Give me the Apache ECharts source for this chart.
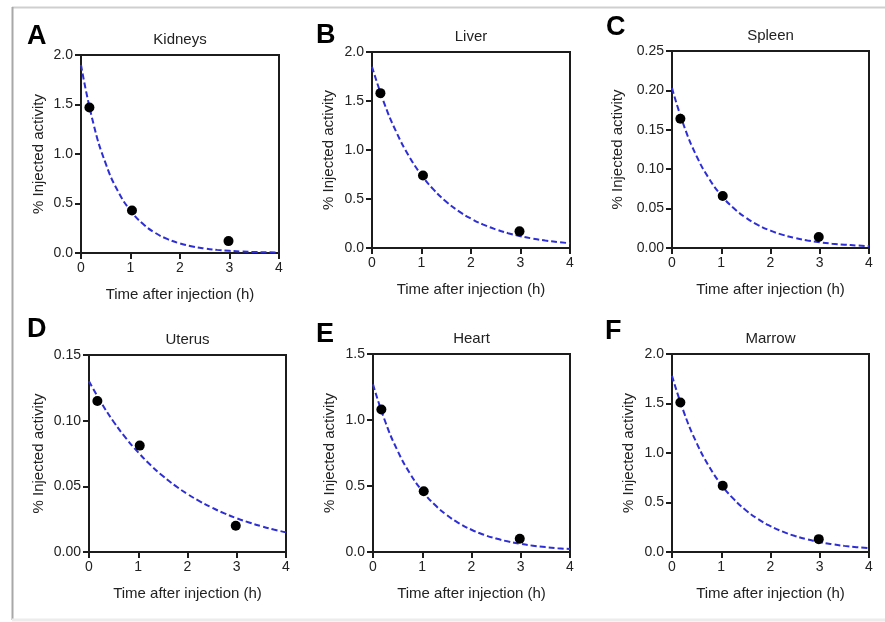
<!DOCTYPE html>
<html>
<head>
<meta charset="utf-8">
<script src="https://cdn.jsdelivr.net/npm/echarts@6/dist/echarts.min.js"></script>
<style>
  html, body { margin: 0; padding: 0; background: #fff; }
  #chart { width: 885px; height: 622px; }
</style>
</head>
<body>
<div id="chart"></div>
<script>
// Sampling times (h) of the measured points
const times = [0.17, 1.03, 2.98];
// Times (h) at which the fitted decay curves are tabulated
const fitTimes = [0, 0.25, 0.5, 0.75, 1, 1.25, 1.5, 1.75, 2, 2.25, 2.5, 2.75, 3, 3.25, 3.5, 3.75, 4];

// Measured % injected activity per organ
const kidneys = [1.47, 0.43, 0.12];
const liver = [1.58, 0.74, 0.17];
const spleen = [0.164, 0.066, 0.014];
const uterus = [0.115, 0.081, 0.020];
const heart = [1.08, 0.46, 0.10];
const marrow = [1.51, 0.67, 0.13];

// Fitted mono-exponential curves, tabulated at fitTimes
const kidneysFit = [1.900, 1.309, 0.902, 0.621, 0.428, 0.295, 0.203, 0.140, 0.0965, 0.0665, 0.0458, 0.0316, 0.0218, 0.0150, 0.0103, 0.0071, 0.0049];
const liverFit = [1.850, 1.4735, 1.1737, 0.9348, 0.7446, 0.5931, 0.4724, 0.3763, 0.2997, 0.2387, 0.1901, 0.1514, 0.1206, 0.0961, 0.0765, 0.0610, 0.0486];
const spleenFit = [0.2030, 0.1538, 0.1165, 0.0883, 0.0669, 0.0507, 0.0384, 0.0291, 0.0220, 0.0167, 0.0127, 0.0096, 0.0073, 0.0055, 0.0042, 0.0032, 0.0024];
const uterusFit = [0.1300, 0.1136, 0.0992, 0.0867, 0.0758, 0.0662, 0.0578, 0.0505, 0.0441, 0.0386, 0.0337, 0.0294, 0.0257, 0.0225, 0.0196, 0.0171, 0.0150];
const heartFit = [1.270, 0.9867, 0.7665, 0.5955, 0.4627, 0.3594, 0.2793, 0.2170, 0.1686, 0.1309, 0.1017, 0.0790, 0.0614, 0.0477, 0.0371, 0.0288, 0.0224];
const marrowFit = [1.780, 1.4002, 1.1014, 0.8664, 0.6815, 0.5361, 0.4217, 0.3317, 0.2609, 0.2052, 0.1614, 0.1270, 0.0999, 0.0786, 0.0618, 0.0486, 0.0383];

// Panel letters, organ names and y-axis scales
const letters = ['A', 'B', 'C', 'D', 'E', 'F'];
const organs = ['Kidneys', 'Liver', 'Spleen', 'Uterus', 'Heart', 'Marrow'];
const yMax = [2.0, 2.0, 0.25, 0.15, 1.5, 2.0];
const yStep = [0.5, 0.5, 0.05, 0.05, 0.5, 0.5];
const yDecimals = [1, 1, 2, 2, 1, 1];
const xTickMax = 4;
const xTickStep = 1;

const measured = [kidneys, liver, spleen, uterus, heart, marrow];
const fitted = [kidneysFit, liverFit, spleenFit, uterusFit, heartFit, marrowFit];

// Layout of each panel's plot box
const boxes = [
  { left: 81, top: 55, width: 198, height: 198, yGap: 35, letterX: 27, letterY: 37 },
  { left: 372, top: 52, width: 198, height: 196, yGap: 36, letterX: 316, letterY: 36 },
  { left: 672, top: 51, width: 197, height: 197, yGap: 47, letterX: 606, letterY: 28 },
  { left: 89, top: 355, width: 197, height: 197, yGap: 43, letterX: 27, letterY: 330 },
  { left: 373, top: 354, width: 197, height: 198, yGap: 36, letterX: 316, letterY: 335 },
  { left: 672, top: 354, width: 197, height: 198, yGap: 36, letterX: 605, letterY: 332 }
];

const FONT = 'Arial, "Liberation Sans", Helvetica, sans-serif';
const INK = '#1c1c1c';
const TEXT = '#222';
const CURVE = '#2e2ed6';

const grids = [], xAxes = [], yAxes = [], series = [], graphics = [];

boxes.forEach((b, i) => {
  grids.push({
    left: b.left, top: b.top, width: b.width, height: b.height,
    show: true, borderColor: INK, borderWidth: 2, backgroundColor: 'transparent'
  });
  xAxes.push({
    gridIndex: i, type: 'value', min: 0, max: xTickMax, interval: xTickStep,
    name: 'Time after injection (h)', nameLocation: 'middle', nameGap: 34,
    nameTextStyle: { fontSize: 15, color: TEXT, fontFamily: FONT },
    axisLine: { show: true, onZero: false, lineStyle: { color: INK, width: 2 } },
    axisTick: { show: true, length: 6, lineStyle: { color: INK, width: 2 } },
    axisLabel: { fontSize: 14, color: TEXT, fontFamily: FONT, margin: 8 },
    splitLine: { show: false }
  });
  yAxes.push({
    gridIndex: i, type: 'value', min: 0, max: yMax[i], interval: yStep[i],
    name: '% Injected activity', nameLocation: 'middle', nameGap: b.yGap,
    nameTextStyle: { fontSize: 15, color: TEXT, fontFamily: FONT },
    axisLine: { show: true, onZero: false, lineStyle: { color: INK, width: 2 } },
    axisTick: { show: true, length: 6, lineStyle: { color: INK, width: 2 } },
    axisLabel: {
      fontSize: 14, color: TEXT, fontFamily: FONT, margin: 8,
      formatter: v => v.toFixed(yDecimals[i])
    },
    splitLine: { show: false }
  });
  series.push({
    type: 'line', xAxisIndex: i, yAxisIndex: i,
    data: fitTimes.map((t, k) => [t, fitted[i][k]]),
    showSymbol: false, smooth: 0.5, silent: true,
    lineStyle: { color: CURVE, width: 2, type: [6, 3] },
    z: 2
  });
  series.push({
    type: 'scatter', xAxisIndex: i, yAxisIndex: i,
    data: times.map((t, k) => [t, measured[i][k]]),
    symbol: 'circle', symbolSize: 10,
    itemStyle: { color: '#000', opacity: 1 },
    z: 3
  });
  // organ name above the box
  graphics.push({
    type: 'text', x: b.left + b.width / 2, y: b.top - 15,
    style: { text: organs[i], fontSize: 15, fontFamily: FONT, fill: TEXT, align: 'center', verticalAlign: 'middle' }
  });
  // panel letter
  graphics.push({
    type: 'text', x: b.letterX, y: b.letterY,
    style: { text: letters[i], fontSize: 27, fontWeight: 'bold', fontFamily: FONT, fill: '#000', align: 'left', verticalAlign: 'middle' }
  });
});

// page frame rules
graphics.push({ type: 'line', shape: { x1: 12, y1: 7.5, x2: 885, y2: 7.5 }, style: { stroke: '#cfcfcf', lineWidth: 2 } });
graphics.push({ type: 'line', shape: { x1: 12.5, y1: 7, x2: 12.5, y2: 620 }, style: { stroke: '#a8a8a8', lineWidth: 2 } });
graphics.push({ type: 'line', shape: { x1: 12, y1: 620, x2: 885, y2: 620 }, style: { stroke: '#ececec', lineWidth: 3 } });

const chart = echarts.init(document.getElementById('chart'));
chart.setOption({
  animation: false,
  backgroundColor: '#fff',
  grid: grids,
  xAxis: xAxes,
  yAxis: yAxes,
  series: series,
  graphic: graphics
});
</script>
</body>
</html>
